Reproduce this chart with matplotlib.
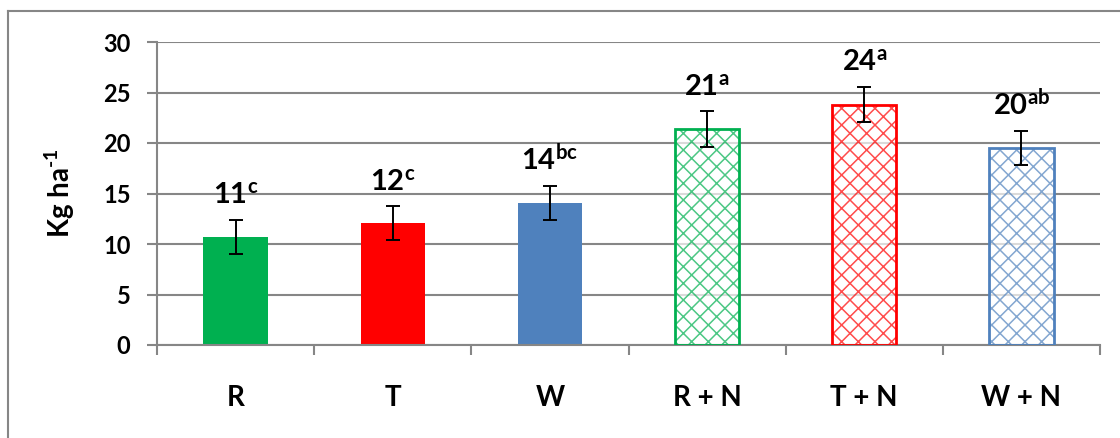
import matplotlib
matplotlib.use("Agg")
import matplotlib.pyplot as plt
from matplotlib.lines import Line2D
import numpy as np

plt.rcParams['font.family'] = ['Lato', 'DejaVu Sans']
plt.rcParams['font.weight'] = 'bold'
plt.rcParams['mathtext.fontset'] = 'custom'
plt.rcParams['mathtext.rm'] = 'Lato:bold'
plt.rcParams['mathtext.bf'] = 'Lato:bold'
plt.rcParams['mathtext.it'] = 'Lato:bold'
plt.rcParams['hatch.linewidth'] = 1.1

treatments = ['R', 'T', 'W', 'R + N', 'T + N', 'W + N']
means = [10.7, 12.05, 14.05, 21.4, 23.8, 19.5]
errors = [1.7, 1.7, 1.7, 1.75, 1.75, 1.7]
letters = ['c', 'c', 'bc', 'a', 'a', 'ab']
colors = ['#00B050', '#FF0000', '#4F81BD', '#00B050', '#FF0000', '#4F81BD']
hatched = [False, False, False, True, True, True]

fig = plt.figure(figsize=(11.2, 4.38), dpi=100)
ax = fig.add_axes([157/1120, 93/438, 943/1120, 303/438])

x = np.arange(len(treatments)) + 0.5
w = 0.41
for xi, m, c, h in zip(x, means, colors, hatched):
    if h:
        # pale hatch first, then a solid outline on top
        ax.bar(xi, m, w, color='white', edgecolor=c, hatch='xx', linewidth=0, alpha=0.7, zorder=2)
        ax.bar(xi, m, w, fill=False, edgecolor=c, linewidth=2, zorder=3)
    else:
        ax.bar(xi, m, w, color=c, linewidth=0, zorder=2)

ax.errorbar(x, means, yerr=errors, fmt='none', ecolor='black', elinewidth=1.4,
            capsize=5, capthick=1.4, zorder=4)

for xi, m, e, let in zip(x, means, errors, letters):
    ax.annotate(r'$\mathbf{%d}^{\mathbf{%s}}$' % (round(m), let), (xi, m + e),
                xytext=(0, 8), textcoords='offset points', ha='center', va='bottom',
                fontsize=21)

ax.set_xlim(0, 6)
ax.set_ylim(0, 30)
ax.set_yticks(range(0, 31, 5))
ax.yaxis.grid(True, color='#868686', linewidth=1.5, zorder=0)
ax.set_axisbelow(True)

ax.set_xticks(x)
ax.set_xticklabels(treatments, fontsize=20, fontweight='bold')
ax.set_xticks(range(0, 7), minor=True)
ax.tick_params(axis='x', which='major', length=0, pad=29)
ax.tick_params(axis='x', which='minor', length=7, width=1.5, color='#868686', direction='out')
ax.tick_params(axis='y', length=7, width=1.5, color='#868686', labelsize=17, pad=12)
for lab in ax.get_yticklabels():
    lab.set_fontweight('bold')

for s in ['top', 'right']:
    ax.spines[s].set_visible(False)
for s in ['left', 'bottom']:
    ax.spines[s].set_color('#868686')
    ax.spines[s].set_linewidth(1.5)

ax.set_ylabel(r'Kg ha$^{\text{-1}}$', fontsize=20, fontweight='bold')
ax.yaxis.set_label_coords(-0.085, 0.5)

# frame around the chart area
fig.add_artist(Line2D([8/1120, 1], [1 - 11/438, 1 - 11/438], color='#868686', linewidth=1.5,
                      transform=fig.transFigure))
fig.add_artist(Line2D([8/1120, 8/1120], [0, 1 - 11/438], color='#868686', linewidth=1.5,
                      transform=fig.transFigure))

fig.savefig('out.png', dpi=100)
